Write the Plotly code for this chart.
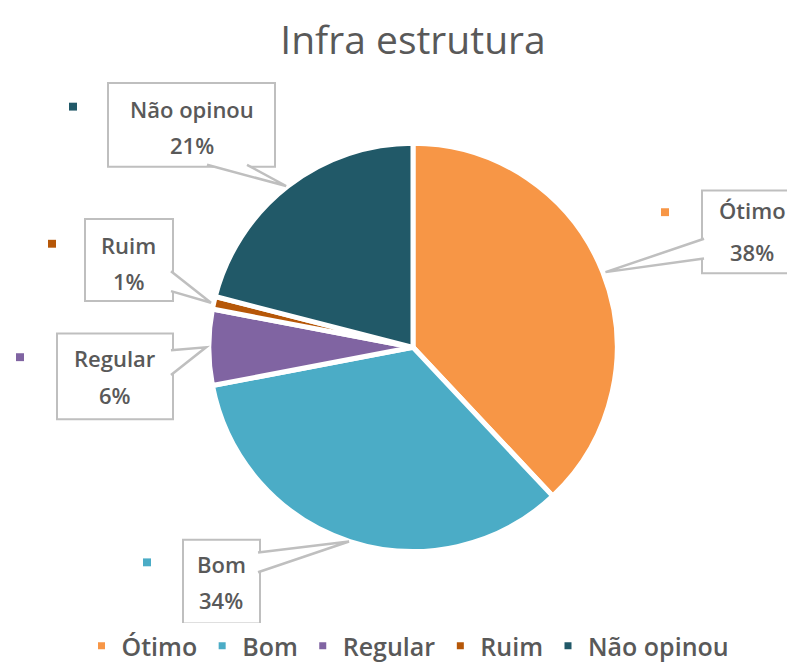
import math
import plotly.graph_objects as go

# ---- data ----
categories = ["Ótimo", "Bom", "Regular", "Ruim", "Não opinou"]
values = [38, 34, 6, 1, 21]
pct_labels = ["38%", "34%", "6%", "1%", "21%"]
colors = ["#F79646", "#4BACC6", "#8064A2", "#B65708", "#215968"]
title_text = "Infra estrutura"

# ---- layout (reference pixels) ----
WIN_W, WIN_H = 795, 669
OFF = 8  # page body margin
FW, FH = WIN_W - OFF, WIN_H - OFF
CX, CY, R = 413, 352, 207
TXT = "#595959"
BOX = "#BFBFBF"
FONT = "Open Sans"

LABEL_LAYOUT = {
    "Ótimo": dict(box=(702, 193, 802, 277), key=(665, 215), ty=(213, 255), side="left", span=(242, 262)),
    "Bom": dict(box=(183, 547, 260, 632), key=(147, 570), ty=(572, 608), side="right", span=(560, 580)),
    "Regular": dict(box=(57, 338, 173, 425), key=(20, 362), ty=(363, 400), side="right", span=(355, 380)),
    "Ruim": dict(box=(85, 222, 173, 305), key=(52, 247), ty=(248, 285), side="right", span=(275, 295)),
    "Não opinou": dict(box=(108, 84, 275, 169), key=(73, 108), ty=(110, 147), side="bottom", span=(207, 247)),
}


def px(x):
    return (x - OFF) / FW


def py(y):
    return 1 - (y - OFF) / FH


fig = go.Figure(
    go.Pie(
        labels=categories,
        values=values,
        sort=False,
        direction="clockwise",
        rotation=0,
        textinfo="none",
        hoverinfo="label+percent",
        marker=dict(colors=colors, line=dict(color="white", width=5)),
        domain=dict(x=[px(CX - R), px(CX + R)], y=[py(CY + R), py(CY - R)]),
    )
)

shapes = []
annotations = []
total = sum(values)
cum = 0
for cat, val, pct, col in zip(categories, values, pct_labels, colors):
    mid = (cum + val / 2) / total * 2 * math.pi
    cum += val
    tipx = CX + R * math.sin(mid)
    tipy = CY - R * math.cos(mid)
    L = LABEL_LAYOUT[cat]
    x0, y0, x1, y1 = L["box"]
    shapes.append(dict(type="rect", xref="paper", yref="paper",
                       x0=px(x0), x1=px(x1), y0=py(y1), y1=py(y0),
                       line=dict(color=BOX, width=2), fillcolor="white", layer="above"))
    a, b = L["span"]
    if L["side"] == "left":
        p1, p2 = (x0 + 2, a), (x0 + 2, b)
    elif L["side"] == "right":
        p1, p2 = (x1 - 2, a), (x1 - 2, b)
    else:
        p1, p2 = (a, y1 - 2), (b, y1 - 2)
    path = "M {:.4f},{:.4f} L {:.4f},{:.4f} L {:.4f},{:.4f}".format(
        px(p1[0]), py(p1[1]), px(tipx), py(tipy), px(p2[0]), py(p2[1]))
    shapes.append(dict(type="path", xref="paper", yref="paper", path=path,
                       line=dict(color=BOX, width=2.5), fillcolor="white", layer="above"))
    kx, ky = L["key"]
    shapes.append(dict(type="rect", xref="paper", yref="paper",
                       x0=px(kx - 4), x1=px(kx + 4), y0=py(ky + 4), y1=py(ky - 4),
                       line=dict(width=0), fillcolor=col, layer="above"))
    cx = (x0 + x1) / 2
    for t, yy in zip((cat, pct), L["ty"]):
        annotations.append(dict(text=t, x=px(cx), y=py(yy), xref="paper", yref="paper",
                                showarrow=False, xanchor="center", yanchor="middle",
                                font=dict(family=FONT, size=22, color=TXT, weight=600)))

fig.update_layout(
    width=FW, height=FH, autosize=False,
    margin=dict(l=0, r=0, t=0, b=0),
    paper_bgcolor="white", plot_bgcolor="white",
    title=dict(text=title_text, x=px(413), xanchor="center", y=py(40), yanchor="middle",
               font=dict(family=FONT, size=39, color=TXT)),
    showlegend=True,
    legend=dict(orientation="h", x=px(408), xanchor="center", y=py(655), yanchor="middle",
                font=dict(family=FONT, size=25, color=TXT, weight=600),
                itemwidth=30, traceorder="normal"),
    shapes=shapes,
    annotations=annotations,
)

fig.write_html("out.html")
